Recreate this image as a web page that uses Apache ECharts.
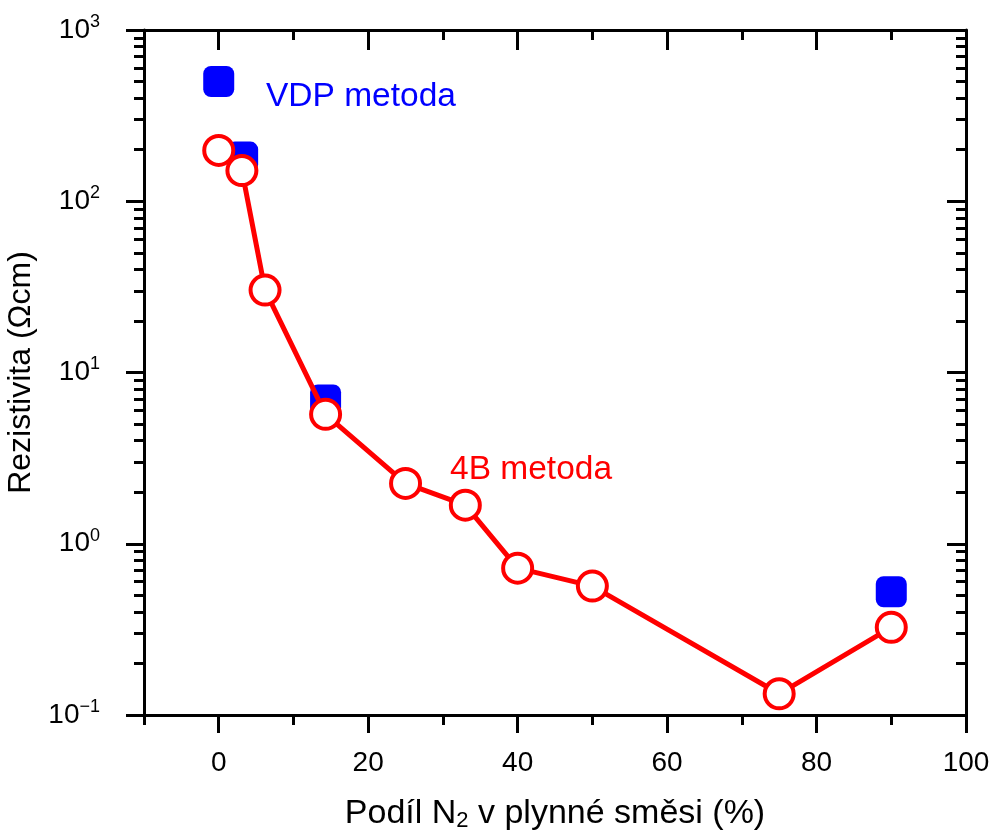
<!DOCTYPE html>
<html>
<head>
<meta charset="utf-8">
<title>Rezistivita</title>
<script src="https://cdn.jsdelivr.net/npm/echarts@6/dist/echarts.min.js"></script>
<style>
  html, body { margin: 0; padding: 0; background: #fff; }
  #chart { width: 990px; height: 834px; }
</style>
</head>
<body>
<div id="chart"></div>
<script>
// podil N2 (%) a rezistivita (Ohm cm)
const xFourProbe = [0, 3.1, 6.2, 14.3, 25, 33, 40, 50, 75, 90];
const rFourProbe = [198, 151, 30.3, 5.7, 2.25, 1.68, 0.72, 0.566, 0.133, 0.325];
const xVdp = [0, 3.2, 14.3, 90];
const rVdp = [501, 181, 6.9, 0.524];

// osy
const xMajor = [0, 20, 40, 60, 80, 100];
const xMinor = [-10, 10, 30, 50, 70, 90];
const yMajor = [0.1, 1, 10, 100, 1000];
const yMinor = [0.2, 0.3, 0.4, 0.5, 0.6, 0.7, 0.8, 0.9,
  2, 3, 4, 5, 6, 7, 8, 9,
  20, 30, 40, 50, 60, 70, 80, 90,
  200, 300, 400, 500, 600, 700, 800, 900];

const FONT = '"Liberation Sans", Arial, Helvetica, sans-serif';
const black = { color: '#000', width: 3 };

function expLabel(v) {
  const e = Math.round(Math.log10(v));
  return '{b|10}{s|' + (e < 0 ? '\u2212' + (-e) : e) + '}';
}

function xAx(pos, ticks, len, inside, extra) {
  return Object.assign({
    type: 'value', min: -10, max: 100, position: pos,
    axisLine: { show: false, onZero: false },
    axisTick: { customValues: ticks, length: len, inside: inside, lineStyle: black },
    axisLabel: { show: false },
    splitLine: { show: false }
  }, extra || {});
}
function yAx(pos, ticks, len, inside, extra) {
  return Object.assign({
    type: 'log', logBase: 10, min: 0.1, max: 1000, position: pos,
    axisLine: { show: false, onZero: false },
    axisTick: { customValues: ticks, length: len, inside: inside, lineStyle: black },
    axisLabel: { show: false },
    splitLine: { show: false },
    minorTick: { show: false }
  }, extra || {});
}

const myChart = echarts.init(document.getElementById('chart'));
myChart.setOption({
  animation: false,
  backgroundColor: '#fff',
  textStyle: { fontFamily: FONT },
  grid: { left: 144, right: 24, top: 30, bottom: 119, containLabel: false, outerBoundsMode: 'none' },
  xAxis: [
    xAx('bottom', xMajor, 18, false, {
      axisLine: { show: true, onZero: false, lineStyle: black },
      axisLabel: { show: true, customValues: xMajor, fontSize: 28, color: '#000', fontFamily: FONT, margin: 34 },
      name: 'Podíl N{sub|2} v plynné směsi (%)',
      nameLocation: 'middle',
      nameGap: 80,
      nameTextStyle: {
        fontSize: 34, color: '#000', fontFamily: FONT,
        rich: { sub: { fontSize: 22, color: '#000', fontFamily: FONT, padding: [15, 0, 0, 0] } }
      }
    }),
    xAx('bottom', xMinor, 10, false),
    xAx('top', xMajor, 20, true, { axisLine: { show: true, onZero: false, lineStyle: black } }),
    xAx('top', xMinor, 10, true)
  ],
  yAxis: [
    yAx('left', yMajor, 18, false, {
      axisLine: { show: true, onZero: false, lineStyle: black },
      axisLabel: {
        show: true, customValues: yMajor, margin: 44, formatter: expLabel,
        rich: {
          b: { fontSize: 28, color: '#000', fontFamily: FONT },
          s: { fontSize: 18, color: '#000', fontFamily: FONT, padding: [0, 0, 16, 0] }
        }
      },
      name: 'Rezistivita (Ωcm)',
      nameLocation: 'middle',
      nameGap: 94,
      nameTextStyle: { fontSize: 32, color: '#000', fontFamily: FONT }
    }),
    yAx('left', yMinor, 10, false),
    yAx('right', yMajor, 19, true, { axisLine: { show: true, onZero: false, lineStyle: black } }),
    yAx('right', yMinor, 10, true)
  ],
  graphic: [
    { type: 'text', left: 266, top: 80, style: { text: 'VDP metoda', fill: '#0000ff', fontSize: 33.5, fontFamily: FONT } },
    { type: 'text', left: 450, top: 453, style: { text: '4B metoda', fill: '#ff0000', fontSize: 33.5, fontFamily: FONT } }
  ],
  series: [
    {
      name: 'VDP metoda',
      type: 'scatter',
      xAxisIndex: 0, yAxisIndex: 0,
      symbol: 'roundRect',
      symbolSize: 31,
      itemStyle: { color: '#0000ff', opacity: 1 },
      data: xVdp.map((x, i) => [x, rVdp[i]]),
      z: 2
    },
    {
      name: '4B metoda',
      type: 'line',
      xAxisIndex: 0, yAxisIndex: 0,
      symbol: 'circle',
      symbolSize: 29,
      showAllSymbol: true,
      lineStyle: { color: '#ff0000', width: 5 },
      itemStyle: { color: '#ffffff', borderColor: '#ff0000', borderWidth: 4, opacity: 1 },
      data: xFourProbe.map((x, i) => [x, rFourProbe[i]]),
      z: 3
    }
  ]
});
</script>
</body>
</html>
